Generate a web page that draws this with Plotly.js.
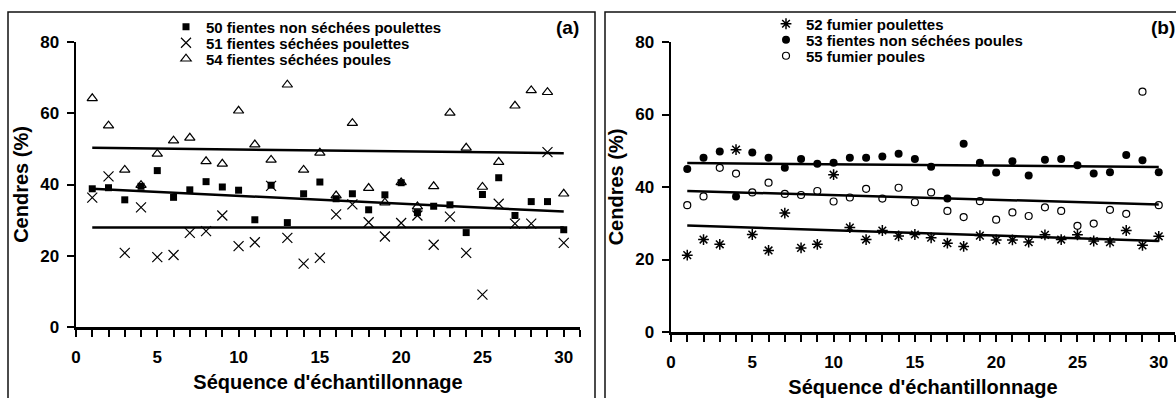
<!DOCTYPE html>
<html><head><meta charset="utf-8">
<script src="https://cdn.plot.ly/plotly-3.0.1.min.js"></script>
<style>html,body{margin:0;padding:0;background:#fff}#chart{width:1176px;height:398px}</style>
</head><body><div id="chart"></div>
<script>
// Sampling sequence
const seq = [1,2,3,4,5,6,7,8,9,10,11,12,13,14,15,16,17,18,19,20,21,22,23,24,25,26,27,28,29,30];

// Panel (a)
const name50 = "50 fientes non séchées poulettes";
const name51 = "51 fientes séchées poulettes";
const name54 = "54 fientes séchées poules";
const s50 = [38.8,39.1,35.7,39.5,43.9,36.4,38.5,40.8,39.3,38.4,30.1,39.8,29.3,37.4,40.7,36.0,37.4,32.9,37.1,40.5,32.1,33.9,34.3,26.5,37.2,41.9,31.3,35.2,35.2,27.3];
const s51 = [36.3,42.3,20.8,33.6,19.6,20.2,26.4,26.9,31.3,22.7,23.8,39.6,25.0,17.8,19.4,31.6,34.4,29.4,25.4,29.2,31.3,23.1,31.0,20.8,9.1,34.6,29.0,29.0,49.1,23.6];
const s54 = [64.2,56.5,44.1,39.8,48.6,52.3,53.1,46.5,45.8,60.7,51.2,46.9,68.0,44.1,48.9,36.9,57.2,39.0,34.9,40.6,33.8,39.5,60.1,50.3,39.3,46.3,62.1,66.4,65.9,37.4];

// Panel (b)
const name52 = "52 fumier poulettes";
const name53 = "53 fientes non séchées poules";
const name55 = "55 fumier poules";
const s52 = [21.2,25.5,24.2,50.3,26.9,22.5,32.8,23.2,24.2,43.4,28.8,25.5,28.0,26.5,26.9,26.0,24.5,23.6,26.6,25.4,25.4,24.8,26.8,25.5,26.8,25.1,24.8,28.0,23.9,26.4];
const s53 = [45.0,48.1,49.8,37.4,49.5,48.1,45.3,47.7,46.4,46.7,48.1,48.1,48.4,49.2,47.7,45.6,36.8,51.9,46.7,44.0,47.1,43.2,47.5,47.7,46.0,43.7,44.1,48.8,47.4,44.1];
const s55 = [35.0,37.4,45.3,43.7,38.5,41.2,38.1,37.8,38.9,36.0,37.1,39.5,36.8,39.8,35.8,38.5,33.4,31.7,36.1,31.0,33.0,32.0,34.4,33.4,29.3,29.9,33.7,32.6,66.3,35.0];

// Linear trend lines (end values)
const trendX = [1, 30];
const t50 = [38.8, 32.4];
const t51 = [27.9, 27.9];
const t54 = [50.3, 48.8];
const t52 = [29.4, 25.1];
const t53 = [46.6, 45.5];
const t55 = [38.9, 35.2];

// Tick labels
const xTicks = [0,5,10,15,20,25,30];
const yTicks = [0,20,40,60,80];

const FAM = "Liberation Sans, Arial, sans-serif";
const W = 1176, H = 398;
const px = v => v / W;
const py = v => 1 - v / H;

function pts(x, y, xa, ya, name, marker, leg) {
  return {type:'scatter', mode:'markers', x:x, y:y, xaxis:xa, yaxis:ya, name:name,
          marker:marker, legend:leg, showlegend:true};
}
function trend(y, xa, ya) {
  return {type:'scatter', mode:'lines', x:trendX, y:y, xaxis:xa, yaxis:ya,
          line:{color:'#000', width:2.5}, showlegend:false, hoverinfo:'skip'};
}

const data = [
  pts(seq, s50, 'x', 'y', name50, {symbol:'square', size:7, color:'#000'}, 'legend'),
  pts(seq, s51, 'x', 'y', name51, {symbol:'x-thin-open', size:10, color:'#000', line:{width:1.2, color:'#000'}}, 'legend2'),
  pts(seq, s54, 'x', 'y', name54, {symbol:'triangle-up-open', size:9, color:'#000', line:{width:1.2, color:'#000'}}, 'legend3'),
  trend(t50, 'x', 'y'), trend(t51, 'x', 'y'), trend(t54, 'x', 'y'),
  pts(seq, s52, 'x2', 'y2', name52, {symbol:'asterisk-open', size:9, color:'#000', line:{width:1.5, color:'#000'}}, 'legend4'),
  pts(seq, s53, 'x2', 'y2', name53, {symbol:'circle', size:8, color:'#000'}, 'legend5'),
  pts(seq, s55, 'x2', 'y2', name55, {symbol:'circle-open', size:7, color:'#000', line:{width:1.2, color:'#000'}}, 'legend6'),
  trend(t52, 'x2', 'y2'), trend(t53, 'x2', 'y2'), trend(t55, 'x2', 'y2')
];

const tickFont = {family:FAM, size:17, color:'#000', weight:'bold'};
const titleFont = {family:FAM, size:20, color:'#000', weight:'bold'};

function xax(domain, anchor) {
  return {domain:domain, anchor:anchor, range:[0,31], showline:true, linewidth:2.5, linecolor:'#000',
    ticks:'outside', ticklen:7, tickwidth:2, tickcolor:'#000', tickvals:xTicks, ticktext:xTicks.map(String),
    ticklabelstandoff:6,
    minor:{dtick:1, tick0:0, ticks:'outside', ticklen:7, tickwidth:2, tickcolor:'#000', showgrid:false},
    showgrid:false, zeroline:false, tickfont:tickFont, fixedrange:true,
    title:{text:"Séquence d'échantillonnage", font:titleFont, standoff:9}};
}
function yax(domain, anchor) {
  return {domain:domain, anchor:anchor, range:[0,80], showline:true, linewidth:2.5, linecolor:'#000',
    ticks:'outside', ticklen:7, tickwidth:2, tickcolor:'#000', tickvals:yTicks, ticktext:yTicks.map(String),
    ticklabelstandoff:4,
    showgrid:false, zeroline:false, tickfont:tickFont, fixedrange:true,
    title:{text:"Cendres (%)", font:titleFont, standoff:6}};
}
function leg(x, y) {
  return {x:px(x), y:py(y), xanchor:'left', yanchor:'middle', bgcolor:'rgba(0,0,0,0)', borderwidth:0,
    font:{family:FAM, size:15, color:'#000', weight:'bold'}, itemclick:false, itemdoubleclick:false};
}

const layout = {
  width:W, height:H, margin:{l:0, r:0, t:0, b:0}, paper_bgcolor:'#fff', plot_bgcolor:'rgba(0,0,0,0)',
  font:{family:FAM, color:'#000'}, showlegend:true,
  xaxis: xax([px(76), px(580)], 'y'),
  yaxis: yax([1-327/H, 1-42/H], 'x'),
  xaxis2: xax([px(671), px(1175)], 'y2'),
  yaxis2: yax([1-332/H, 1-42/H], 'x2'),
  legend: leg(166, 27), legend2: leg(166, 43), legend3: leg(166, 59),
  legend4: leg(766, 24), legend5: leg(766, 40), legend6: leg(766, 56),
  shapes:[
    {type:'rect', xref:'paper', yref:'paper', x0:px(8), x1:px(595), y0:-0.05, y1:py(12), line:{color:'#111', width:1.5}, layer:'below'},
    {type:'rect', xref:'paper', yref:'paper', x0:px(605), x1:1.02, y0:-0.05, y1:py(12), line:{color:'#111', width:1.5}, layer:'below'}
  ],
  annotations:[
    {xref:'paper', yref:'paper', x:px(581), y:py(27), xanchor:'right', yanchor:'middle', text:'(a)', showarrow:false,
     font:{family:FAM, size:19, color:'#000', weight:'bold'}},
    {xref:'paper', yref:'paper', x:px(1177), y:py(27), xanchor:'right', yanchor:'middle', text:'(b)', showarrow:false,
     font:{family:FAM, size:19, color:'#000', weight:'bold'}}
  ]
};

Plotly.newPlot('chart', data, layout, {staticPlot:true, displayModeBar:false});
</script>
</body></html>
